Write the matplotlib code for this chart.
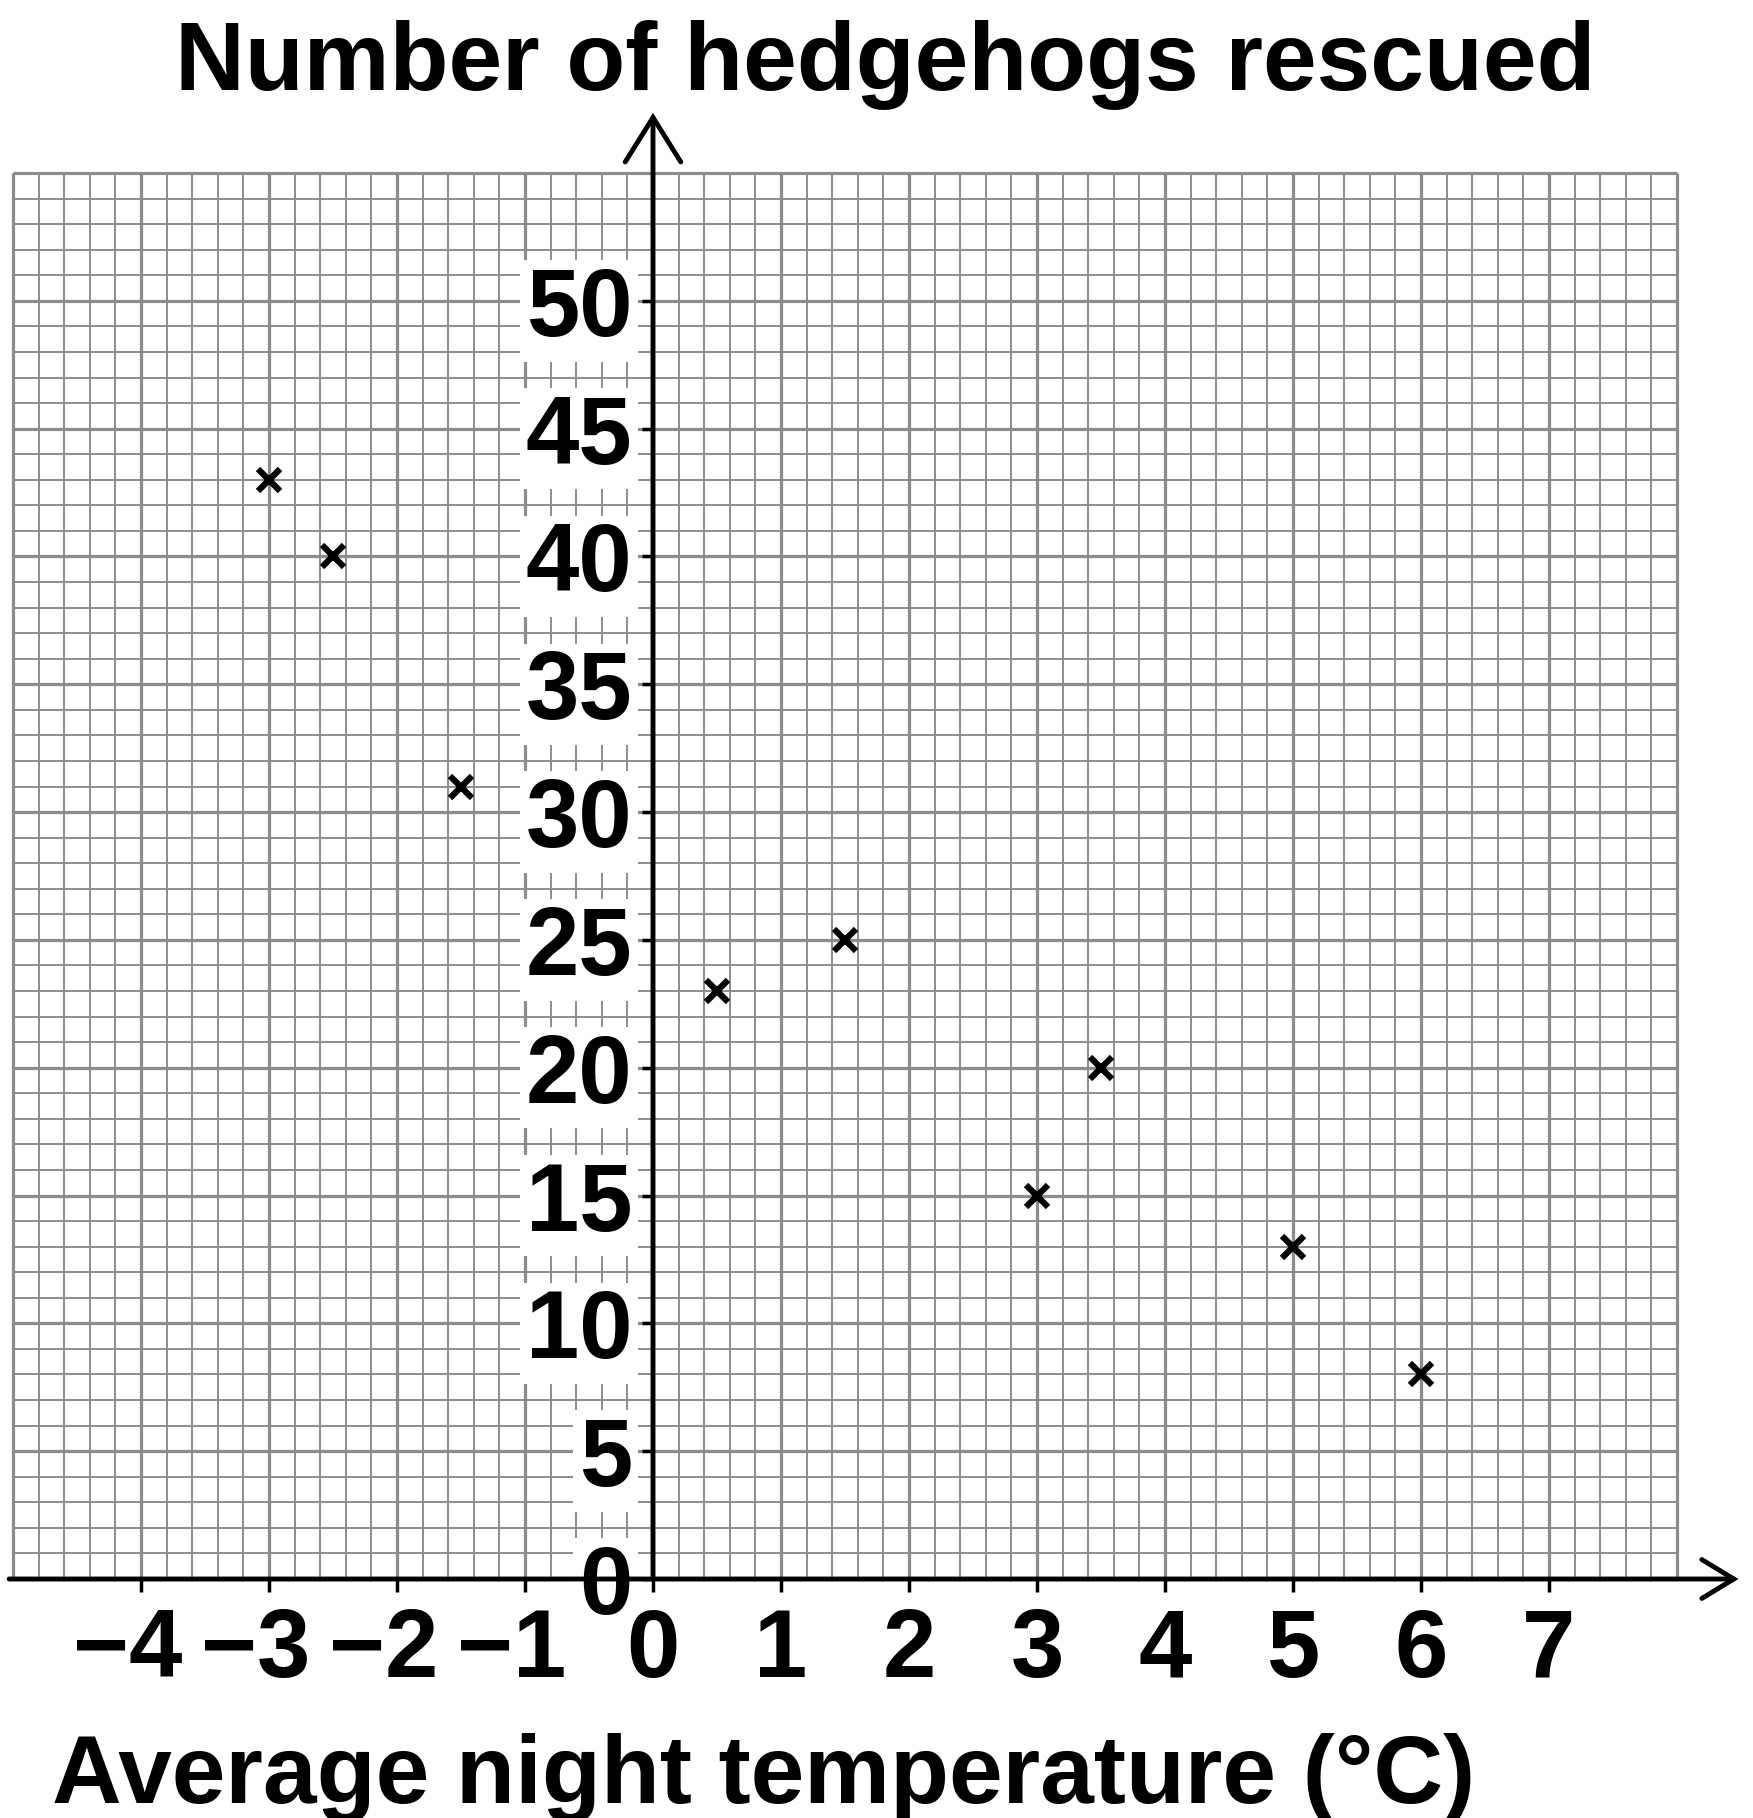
import matplotlib.pyplot as plt
import numpy as np

plt.rcParams['font.family'] = ['Liberation Sans', 'DejaVu Sans']
plt.rcParams['font.weight'] = 'bold'

# scatter data
temperature = [-3, -2.5, -1.5, 0.5, 1.5, 3, 3.5, 5, 6]
hedgehogs = [43, 40, 31, 23, 25, 15, 20, 13, 8]

x_ticks = [-4, -3, -2, -1, 0, 1, 2, 3, 4, 5, 6, 7]
# trailing space nudges the negative labels a little left, like the original
x_labels = ['\u22124 ', '\u22123 ', '\u22122 ', '\u22121 ', '0', '1', '2', '3', '4', '5', '6', '7']
y_ticks = [0, 5, 10, 15, 20, 25, 30, 35, 40, 45, 50]

W, H = 1753, 1818
fig = plt.figure(figsize=(W / 100, H / 100), dpi=100)
ax = fig.add_axes([13 / W, 1 - 1579 / H, 1664 / W, 1406 / H])
ax.set_xlim(-5, 8)
ax.set_ylim(0, 55)

grey = '#8c8c8c'
# graph paper: thin lines every 0.2 / 1, thicker every 1 / 5
ax.vlines(np.arange(-5, 8.001, 0.2), 0, 55, color=grey, lw=1.4, zorder=0)
ax.hlines(np.arange(0, 56, 1), -5, 8, color=grey, lw=1.4, zorder=0)
ax.vlines(np.arange(-5, 9, 1), 0, 55, color=grey, lw=2.3, zorder=0.5, clip_on=False)
ax.hlines(np.arange(0, 56, 5), -5, 8, color=grey, lw=2.3, zorder=0.5, clip_on=False)

for s in ['top', 'right', 'bottom', 'left']:
    ax.spines[s].set_color('none')
ax.spines['left'].set_position(('data', 0))

# axes with open arrow heads
ax.annotate('', xy=(0, 57.35), xytext=(0, 0), annotation_clip=False,
            arrowprops=dict(arrowstyle='->,head_length=1.6,head_width=1.0', lw=3.5,
                            color='black', shrinkA=0, shrinkB=0, mutation_scale=20,
                            capstyle='round', joinstyle='miter'), zorder=3)
ax.annotate('', xy=(8.48, 0), xytext=(-5.03, 0), annotation_clip=False,
            arrowprops=dict(arrowstyle='->,head_length=1.15,head_width=0.7', lw=3.5,
                            color='black', shrinkA=0, shrinkB=0, mutation_scale=20,
                            capstyle='round', joinstyle='miter'), zorder=2)

ax.set_xticks(x_ticks)
ax.set_xticklabels(x_labels)
ax.set_yticks(y_ticks)
ax.tick_params(axis='x', direction='out', length=9.5, width=2.5, color='black',
               labelsize=69, pad=11)
ax.tick_params(axis='y', direction='out', length=8, width=2.5, color='black',
               labelsize=69, pad=7)
for lab in ax.get_yticklabels():
    lab.set_bbox(dict(facecolor='white', edgecolor='none', pad=4))
# x labels on top of the white boxes behind the y labels
ax.xaxis.set_zorder(2.6)

ax.plot(temperature, hedgehogs, linestyle='none', marker='x', ms=16, mew=4.5,
        color='black', zorder=5, clip_on=False)

fig.text(885 / W, 1 - 90 / H, 'Number of hedgehogs rescued', ha='center',
         va='baseline', fontsize=69.5, fontweight='bold')
fig.text(764 / W, 1 - 1803 / H, 'Average night temperature (\u00b0C)', ha='center',
         va='baseline', fontsize=69.5, fontweight='bold')

fig.savefig('out.png', dpi=100)
